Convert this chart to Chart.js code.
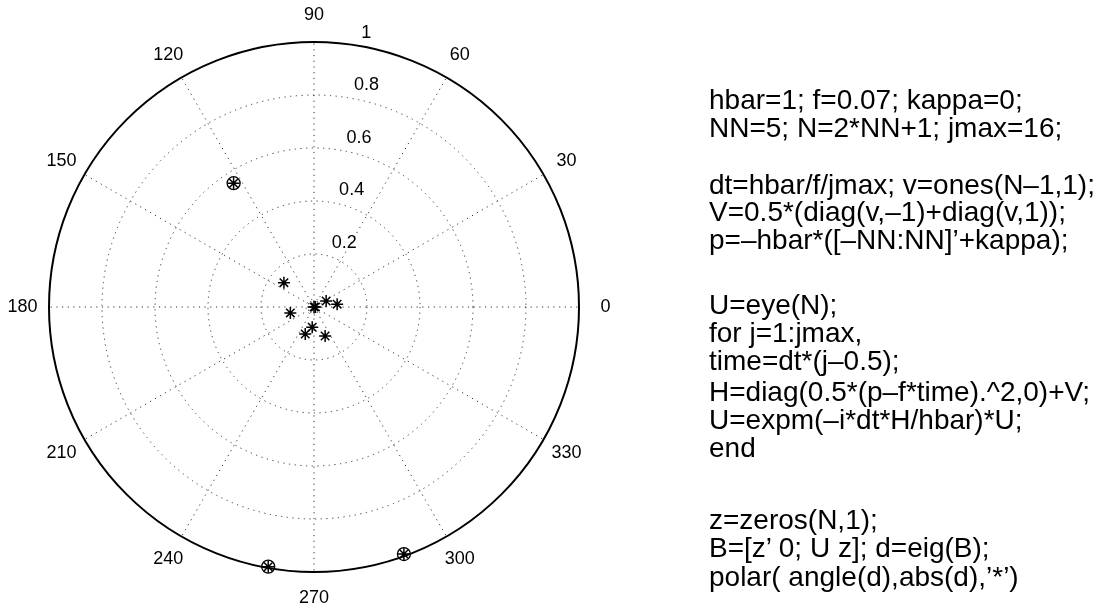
<!DOCTYPE html>
<html>
<head>
<meta charset="utf-8">
<script src="https://cdn.jsdelivr.net/npm/chart.js@4/dist/chart.umd.min.js"></script>
<style>
body { margin: 0; background: #fff; }
#wrap { position: relative; width: 1111px; height: 615px; }
#polar { position: absolute; left: 0; top: 0; }
.code { position: absolute; left: 709px; font-family: "Liberation Sans", Arial, sans-serif;
        font-size: 28px; line-height: 28px; color: #000; white-space: pre; }
</style>
</head>
<body>
<div id="wrap">
  <canvas id="polar" width="1111" height="615"></canvas>
  <div class="code" style="top:86px">hbar=1; f=0.07; kappa=0;</div>
  <div class="code" style="top:114px">NN=5; N=2*NN+1; jmax=16;</div>
  <div class="code" style="top:171px">dt=hbar/f/jmax; v=ones(N–1,1);</div>
  <div class="code" style="top:198px">V=0.5*(diag(v,–1)+diag(v,1));</div>
  <div class="code" style="top:226px">p=–hbar*([–NN:NN]’+kappa);</div>
  <div class="code" style="top:291px">U=eye(N);</div>
  <div class="code" style="top:319px">for j=1:jmax,</div>
  <div class="code" style="top:347px">time=dt*(j–0.5);</div>
  <div class="code" style="top:378px">H=diag(0.5*(p–f*time).^2,0)+V;</div>
  <div class="code" style="top:406px">U=expm(–i*dt*H/hbar)*U;</div>
  <div class="code" style="top:434px">end</div>
  <div class="code" style="top:506px">z=zeros(N,1);</div>
  <div class="code" style="top:534px">B=[z’ 0; U z]; d=eig(B);</div>
  <div class="code" style="top:563px">polar( angle(d),abs(d),’*’)</div>
</div>
<script>
// polar grid ticks
var angleTicks = [0, 30, 60, 90, 120, 150, 180, 210, 240, 270, 300, 330];
var radiusTicks = [0.2, 0.4, 0.6, 0.8, 1];
var radiusLabels = ["0.2", "0.4", "0.6", "0.8", "1"];
var innerRing = 0.03;

// eigenvalues d: angle (degrees) and modulus
var eigAngles = [141, 26, 7, 0, 0, 194, 265, 252, 291, 123, 260, 290];
var eigRadii = [0.146, 0.051, 0.088, 0, 0.005, 0.092, 0.077, 0.107, 0.117, 0.557, 0.995, 0.992];

// the ones drawn with a circle round them
var circledAngles = [123, 260, 290];
var circledRadii = [0.557, 0.995, 0.992];

function toXY(angles, radii){
  var pts = [];
  for (var i = 0; i < angles.length; i++){
    var t = angles[i] * Math.PI / 180;
    pts.push({x: radii[i] * Math.cos(t), y: radii[i] * Math.sin(t)});
  }
  return pts;
}

var polarGrid = {
  id: 'polarGrid',
  beforeDatasetsDraw: function(chart){
    var ctx = chart.ctx;
    var xs = chart.scales.x, ys = chart.scales.y;
    var cx = xs.getPixelForValue(0), cy = ys.getPixelForValue(0);
    var R = xs.getPixelForValue(1) - cx;
    var rmax = radiusTicks[radiusTicks.length - 1];
    ctx.save();
    // dotted spokes
    ctx.strokeStyle = '#333';
    ctx.lineWidth = 1;
    ctx.setLineDash([1.2, 4.5]);
    angleTicks.forEach(function(a){
      var t = a * Math.PI / 180;
      ctx.beginPath();
      ctx.moveTo(cx, cy);
      ctx.lineTo(xs.getPixelForValue(rmax * Math.cos(t)), ys.getPixelForValue(rmax * Math.sin(t)));
      ctx.stroke();
    });
    // dotted rings
    radiusTicks.slice(0, -1).concat([innerRing]).forEach(function(r){
      ctx.beginPath();
      ctx.arc(cx, cy, r * R, 0, Math.PI * 2);
      ctx.stroke();
    });
    // outer circle
    ctx.setLineDash([]);
    ctx.strokeStyle = '#000';
    ctx.lineWidth = 2;
    ctx.beginPath();
    ctx.arc(cx, cy, rmax * R, 0, Math.PI * 2);
    ctx.stroke();

    ctx.fillStyle = '#000';
    ctx.font = '18px "Liberation Sans", Arial, sans-serif';
    // angle labels
    ctx.textAlign = 'center';
    ctx.textBaseline = 'middle';
    angleTicks.forEach(function(a){
      var t = a * Math.PI / 180;
      ctx.fillText(String(a), xs.getPixelForValue(1.1 * rmax * Math.cos(t)), ys.getPixelForValue(1.1 * rmax * Math.sin(t)));
    });
    // radius labels along 82 degrees
    ctx.textAlign = 'left';
    ctx.textBaseline = 'bottom';
    var t82 = 82 * Math.PI / 180;
    radiusTicks.forEach(function(r, i){
      var rr = r + 0.01;
      ctx.fillText('  ' + radiusLabels[i], xs.getPixelForValue(rr * Math.cos(t82)), ys.getPixelForValue(rr * Math.sin(t82)));
    });
    ctx.restore();
  }
};

var ctx = document.getElementById("polar");
var myChart = new Chart(ctx, {
  type: 'scatter',
  data: {
    datasets: [
      {
        data: toXY(eigAngles, eigRadii),
        pointStyle: 'star',
        pointRadius: 6,
        borderWidth: 1.5,
        borderColor: '#000',
        backgroundColor: '#000',
        clip: false
      },
      {
        data: toXY(circledAngles, circledRadii),
        pointStyle: 'circle',
        pointRadius: 6.5,
        borderWidth: 1.3,
        borderColor: '#000',
        backgroundColor: 'rgba(0,0,0,0)',
        clip: false
      }
    ]
  },
  options: {
    responsive: false,
    animation: false,
    events: [],
    layout: { padding: { left: 49, right: 532, top: 42, bottom: 43 } },
    plugins: { legend: { display: false }, tooltip: { enabled: false } },
    scales: {
      x: { type: 'linear', min: -1, max: 1, display: false },
      y: { type: 'linear', min: -1, max: 1, display: false }
    }
  },
  plugins: [polarGrid]
});
</script>
</body>
</html>
